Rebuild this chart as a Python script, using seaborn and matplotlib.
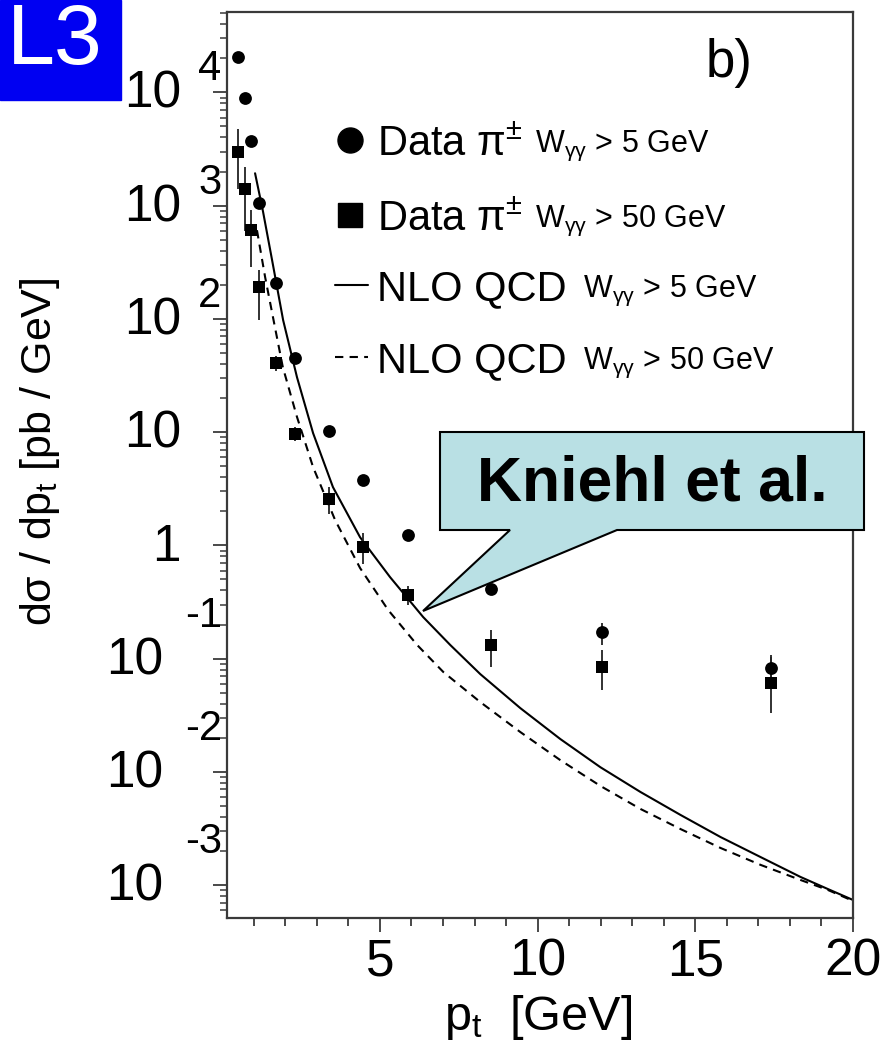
import numpy as np
import pandas as pd
import seaborn as sns
import matplotlib.pyplot as plt
from matplotlib import transforms
from matplotlib.patches import Polygon, Rectangle
from matplotlib.lines import Line2D

# data
pt_bins = [0.49, 0.72, 0.91, 1.17, 1.69, 2.31, 3.37, 4.46, 5.88, 8.53, 12.03, 17.4]

w5_y = [2.05e4, 8.9e3, 3.7e3, 1.05e3, 207, 45, 10.2, 3.77, 1.24, 0.41, 0.172, 0.083]
w5_lo = [2.05e4, 8.9e3, 3.7e3, 1.05e3, 207, 45, 10.2, 3.77, 1.24, 0.39, 0.132, 0.065]
w5_hi = [2.05e4, 8.9e3, 3.7e3, 1.05e3, 207, 45, 10.2, 3.77, 1.24, 0.43, 0.206, 0.103]

w50_y = [3.0e3, 1.4e3, 605, 191, 40.6, 9.6, 2.56, 0.97, 0.364, 0.132, 0.085, 0.061]
w50_lo = [1.4e3, 600, 286, 97, 35, 8.3, 1.9, 0.68, 0.30, 0.084, 0.053, 0.033]
w50_hi = [4.8e3, 2.2e3, 910, 270, 47, 11.2, 3.3, 1.30, 0.44, 0.179, 0.119, 0.108]

nlo5_x = [1.04, 1.29, 1.58, 1.93, 2.37, 2.88, 3.51, 4.37, 5.32, 6.37, 7.23, 8.18,
          9.45, 10.72, 11.99, 13.26, 14.53, 15.80, 17.07, 18.34, 19.2, 20.0]
nlo5_y = [1932, 893, 330, 97.5, 30.5, 9.8, 3.27, 1.18, 0.525, 0.233, 0.132, 0.0731,
          0.0366, 0.0195, 0.0110, 0.00665, 0.00417, 0.00266, 0.00177, 0.00118,
          0.000925, 0.00074]

nlo50_x = [1.10, 1.36, 1.67, 1.92, 2.37, 2.88, 3.58, 4.37, 5.26, 6.18, 7.01, 8.18,
           9.45, 10.72, 11.99, 13.26, 14.53, 15.80, 17.07, 18.34, 19.2, 20.0]
nlo50_y = [607, 233, 84.5, 37.5, 13.6, 4.91, 1.67, 0.631, 0.269, 0.132, 0.0762, 0.0414,
           0.0225, 0.0127, 0.00752, 0.00471, 0.00313, 0.00213, 0.00151, 0.00111,
           0.000908, 0.000726]

ytick_vals = [1e-3, 1e-2, 1e-1, 1, 10, 1e2, 1e3, 1e4]
ytick_base = ['10', '10', '10', '1', '10', '10', '10', '10']
ytick_exp = ['-3', '-2', '-1', '', '', '2', '3', '4']
xtick_vals = [5, 10, 15, 20]

sns.set_style('ticks')
plt.rcParams['font.family'] = ['Liberation Sans', 'DejaVu Sans']
plt.rcParams['mathtext.fontset'] = 'custom'
plt.rcParams['mathtext.rm'] = 'Liberation Sans'
plt.rcParams['mathtext.it'] = 'Liberation Sans'
plt.rcParams['mathtext.default'] = 'regular'
plt.rcParams['text.color'] = 'black'
plt.rcParams['xtick.color'] = 'black'
plt.rcParams['ytick.color'] = 'black'
plt.rcParams['axes.labelcolor'] = 'black'

fig = plt.figure(figsize=(8.91, 10.41), dpi=100)
ax = fig.add_axes([227 / 891, 1 - 918 / 1041, 626 / 891, 906 / 1041])
ax.set_yscale('log')

# NLO curves
sns.lineplot(x=nlo5_x, y=nlo5_y, ax=ax, color='black', lw=1.5, sort=False,
             estimator=None, errorbar=None)
sns.lineplot(x=nlo50_x, y=nlo50_y, ax=ax, color='black', lw=1.5, sort=False,
             estimator=None, errorbar=None, linestyle=(0, (4, 3)))

# error bars
ax.vlines(pt_bins, w5_lo, w5_hi, color='#222222', lw=1.3)
ax.vlines(pt_bins, w50_lo, w50_hi, color='#222222', lw=1.3)

# data points
sns.scatterplot(x=pt_bins, y=w5_y, ax=ax, marker='o', s=85, color='black',
                edgecolor='black', linewidth=0, zorder=5)
sns.scatterplot(x=pt_bins, y=w50_y, ax=ax, marker='s', s=85, color='black',
                edgecolor='black', linewidth=0, zorder=5)

ax.set_xlim(0.15, 20)
ax.set_ylim(10 ** -3.29, 10 ** 4.71)

for sp in ax.spines.values():
    sp.set_visible(True)
    sp.set_linewidth(1.6)
    sp.set_color('#3a3a3a')

ax.set_xticks(xtick_vals)
ax.set_xticklabels([str(v) for v in xtick_vals], fontsize=37)
ax.set_xticks(np.arange(1, 20), minor=True)
ax.tick_params(axis='x', which='major', length=10, width=1.3, pad=4, color='#3a3a3a')
ax.tick_params(axis='x', which='minor', length=6, width=1.3, color='#3a3a3a')
ax.tick_params(axis='y', which='major', length=10, width=1.3, color='#3a3a3a')
ax.tick_params(axis='y', which='minor', length=5, width=1.1, color='#3a3a3a')
ax.set_yticks(ytick_vals)
ax.set_yticklabels([''] * len(ytick_vals))
ax.yaxis.set_minor_locator(plt.matplotlib.ticker.LogLocator(base=10, subs=np.arange(2, 10), numticks=50))
ax.yaxis.set_minor_formatter(plt.NullFormatter())

# ROOT-style y labels: "10" with exponent up and to the right
ytr = ax.get_yaxis_transform()
for v, b, e in zip(ytick_vals, ytick_base, ytick_exp):
    neg = e.startswith('-')
    bx = -0.1022 if neg else -0.0735
    t = transforms.offset_copy(ytr, fig=fig, y=-2, units='dots')
    ax.text(bx, v, b, transform=t, ha='right', va='center', fontsize=37)
    if e:
        ex = -0.0671 if neg else -0.0463
        t2 = transforms.offset_copy(ytr, fig=fig, y=43 if neg else 23, units='dots')
        ax.text(ex, v, e, transform=t2, ha='left', va='center', fontsize=30)

fig.text(538 / 891, 1 - 1030 / 1041, r'$p_t$  [GeV]', ha='center', va='baseline', fontsize=35)
fig.text(40 / 891, 1 - 452 / 1041, r'd$\sigma$ / d$p_t$ [pb / GeV]', rotation=90,
         ha='center', va='center', fontsize=31)

# panel tag
ax.text(0.802, 0.9437, 'b)', transform=ax.transAxes, ha='center', va='center', fontsize=38)

# legend drawn by hand
rows = [0.8587, 0.7759, 0.6987, 0.6192]
ax.add_line(Line2D([0.1965], [rows[0]], marker='o', ms=18, color='black', transform=ax.transAxes))
ax.add_line(Line2D([0.1965], [rows[1]], marker='s', ms=17, color='black', transform=ax.transAxes))
ax.add_line(Line2D([0.1725, 0.2252], [rows[2]] * 2, color='black', lw=1.5, transform=ax.transAxes))
ax.add_line(Line2D([0.1725, 0.2252], [rows[3]] * 2, color='black', lw=1.5,
                   linestyle=(0, (4, 3)), transform=ax.transAxes))
main_lab = [r'Data $\pi^{\pm}$', r'Data $\pi^{\pm}$', 'NLO QCD', 'NLO QCD']
sub_lab = [r'$W_{\gamma\gamma}$ > 5 GeV', r'$W_{\gamma\gamma}$ > 50 GeV',
           r'$W_{\gamma\gamma}$ > 5 GeV', r'$W_{\gamma\gamma}$ > 50 GeV']
sub_x = [0.492, 0.492, 0.569, 0.569]
for r, m, s, sx in zip(rows, main_lab, sub_lab, sub_x):
    ax.text(0.2396, r, m, transform=ax.transAxes, ha='left', va='center_baseline', fontsize=30)
    ax.text(sx, r, s, transform=ax.transAxes, ha='left', va='center_baseline', fontsize=22)

# L3 logo
fig.patches.append(Rectangle((0, 1 - 100 / 1041), 121 / 891, 100 / 1041,
                             transform=fig.transFigure, color='#0000f2', zorder=10))
fig.text(55 / 891, 1 - 42 / 1041, 'L3', color='white', ha='center', va='center',
         fontsize=62, zorder=11)

# callout
pts = [(440, 432), (864, 432), (864, 530), (617, 530), (423, 611), (510, 530), (440, 530)]
poly = Polygon([(x / 891, 1 - y / 1041) for x, y in pts], closed=True,
               transform=fig.transFigure, facecolor='#b9e0e4', edgecolor='black',
               lw=1.5, zorder=20)
fig.patches.append(poly)
fig.text(652 / 891, 1 - 484 / 1041, 'Kniehl et al.', ha='center', va='center',
         fontsize=45, fontweight='bold', zorder=21)

fig.savefig('out.png', dpi=100)
